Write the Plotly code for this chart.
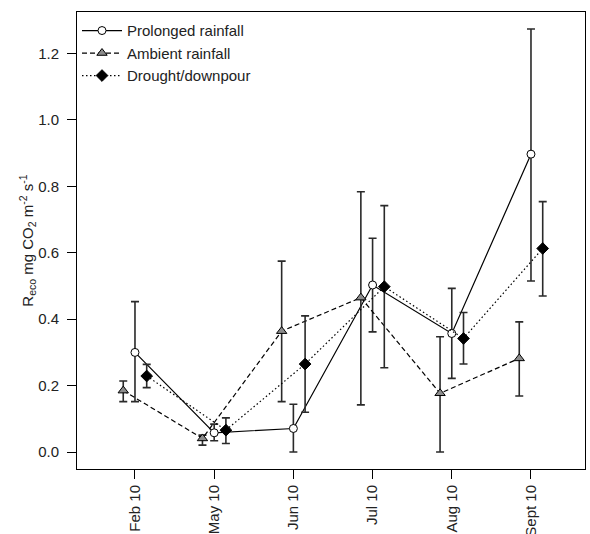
import plotly.graph_objects as go

months = ["Feb 10", "May 10", "Jun 10", "Jul 10", "Aug 10", "Sept 10"]

prolonged = [0.300, 0.058, 0.071, 0.503, 0.357, 0.897]
prolonged_hi = [0.453, 0.084, 0.144, 0.644, 0.493, 1.274]
prolonged_lo = [0.152, 0.034, 0.000, 0.362, 0.222, 0.515]

ambient = [0.185, 0.041, 0.364, 0.465, 0.177, 0.282]
ambient_hi = [0.214, 0.051, 0.575, 0.784, 0.347, 0.392]
ambient_lo = [0.152, 0.021, 0.152, 0.142, 0.000, 0.169]

drought = [0.229, 0.066, 0.265, 0.498, 0.342, 0.613]
drought_hi = [0.264, 0.103, 0.410, 0.742, 0.420, 0.754]
drought_lo = [0.194, 0.026, 0.120, 0.254, 0.265, 0.470]

yticks = [0.0, 0.2, 0.4, 0.6, 0.8, 1.0, 1.2]

offset = 0.148
idx = list(range(len(months)))

fig = go.Figure()

def add(name, vals, hi, lo, shift, dash, symbol, fill, size):
    xs = [i + shift for i in idx]
    fig.add_trace(go.Scatter(
        x=xs, y=vals, name=name, mode="lines+markers",
        line=dict(color="black", width=1.2, dash=dash),
        marker=dict(symbol=symbol, size=size, color=fill,
                    line=dict(color="black", width=1)),
        error_y=dict(type="data", symmetric=False,
                     array=[h - v for h, v in zip(hi, vals)],
                     arrayminus=[v - l for v, l in zip(vals, lo)],
                     color="#2a2a2a", thickness=1.6, width=4),
    ))

add("Prolonged rainfall", prolonged, prolonged_hi, prolonged_lo, 0.0, "solid", "circle", "white", 8)
add("Ambient rainfall", ambient, ambient_hi, ambient_lo, -offset, "5px,3px", "triangle-up", "#8c8c8c", 9)
add("Drought/downpour", drought, drought_hi, drought_lo, offset, "1.5px,2.5px", "diamond", "black", 9)

font_family = "Liberation Sans, Arial"
axis_common = dict(showgrid=False, zeroline=False, showline=True, linecolor="black",
                   linewidth=1, mirror=True, ticks="outside", ticklen=9, automargin=False,
                   tickcolor="black", tickfont=dict(family=font_family, size=15, color="#222"))

fig.update_layout(
    width=590, height=534,
    margin=dict(l=77, r=5, t=12, b=65),
    paper_bgcolor="white", plot_bgcolor="white",
    font=dict(family=font_family, size=15, color="#222"),
    xaxis=dict(range=[-0.732, 5.682], tickmode="array", tickvals=idx, ticktext=months,
               tickangle=-90, **axis_common),
    yaxis=dict(range=[-0.051, 1.325], tickmode="array", tickvals=yticks,
               ticktext=[f"{t:.1f}" for t in yticks], ticklabelstandoff=5,
               title=dict(text="R<sub>eco</sub> mg CO<sub>2</sub> m<sup>-2</sup> s<sup>-1</sup>",
                          font=dict(size=15), standoff=0),
               **axis_common),
    legend=dict(x=0.0, y=0.995, xanchor="left", yanchor="top", bgcolor="rgba(0,0,0,0)",
                font=dict(size=15), itemwidth=40, tracegroupgap=0),
    showlegend=True,
)

fig.write_html("out.html", config={"displayModeBar": False},
               post_script="document.body.style.margin='0';")
